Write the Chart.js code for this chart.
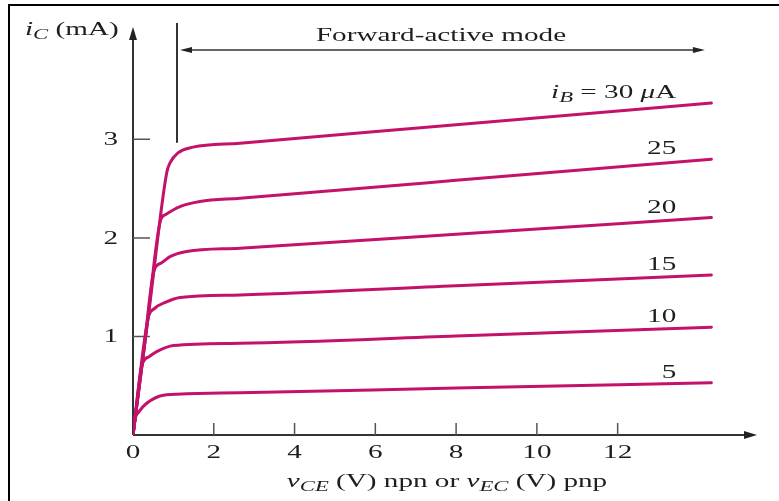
<!DOCTYPE html>
<html>
<head>
<meta charset="utf-8">
<script src="https://cdn.jsdelivr.net/npm/chart.js@4.4.0/dist/chart.umd.min.js"></script>
<style>
  html, body { margin: 0; padding: 0; background: #fff; }
</style>
</head>
<body>
<canvas id="chart" width="779" height="501"></canvas>
<script>
// BJT output characteristics: vCE in V, iC in mA
const baseCurrents = ['30', '25', '20', '15', '10', '5'];
const v30 = [0, 0.42, 0.834, 0.916, 1.114, 1.485, 2.649, 8, 14.32];
const i30 = [0, 1.34, 2.66, 2.761, 2.863, 2.921, 2.961, 3.148, 3.368];
const v25 = [0, 0.34, 0.683, 0.80, 1.163, 1.658, 2.649, 8, 14.32];
const i25 = [0, 1.09, 2.18, 2.235, 2.318, 2.37, 2.403, 2.584, 2.799];
const v20 = [0, 0.26, 0.525, 0.70, 0.916, 1.329, 2.649, 8, 14.32];
const i20 = [0, 0.83, 1.675, 1.745, 1.81, 1.862, 1.895, 2.037, 2.206];
const v15 = [0, 0.366, 0.55, 0.75, 1.163, 2.649, 8, 14.32];
const i15 = [0, 1.168, 1.29, 1.337, 1.396, 1.421, 1.514, 1.624];
const v10 = [0, 0.223, 0.40, 0.587, 0.998, 2.649, 8, 14.32];
const i10 = [0, 0.711, 0.795, 0.846, 0.908, 0.931, 1.005, 1.093];
const v5 = [0, 0.05, 0.15, 0.339, 0.75, 1.329, 2.649, 8, 14.32];
const i5 = [0, 0.16, 0.237, 0.322, 0.404, 0.418, 0.429, 0.476, 0.531];

const xTicks = [0, 2, 4, 6, 8, 10, 12];
const yTicks = [1, 2, 3];
const xMax = 15.45;
const yMax = 4.14;
const activeEdge = 1.09;   // V, left end of forward-active region
const activeEnd = 14.16;   // V, right tip of the region arrow

const curves = [[v30, i30], [v25, i25], [v20, i20], [v15, i15], [v10, i10], [v5, i5]];
const lineColor = '#c4126b';
const ink = '#1e1e1e';
const SX = 1.62; // the figure's lettering is stretched sideways

const serif = '"Liberation Serif", "Times New Roman", serif';
const fReg = '18px ' + serif;
const fIt = 'italic 18px ' + serif;
const fSub = 'italic 14px ' + serif;

function runsWidth(ctx, runs) {
  let w = 0;
  runs.forEach(r => { ctx.font = r[1]; w += ctx.measureText(r[0]).width * SX; });
  return w;
}
function drawRuns(ctx, runs, x, y, align) {
  const w = runsWidth(ctx, runs);
  let cx = align === 'center' ? x - w / 2 : align === 'right' ? x - w : x;
  runs.forEach(r => {
    ctx.font = r[1];
    ctx.save();
    ctx.translate(cx, y + (r[2] || 0));
    ctx.scale(SX, 1);
    ctx.textAlign = 'left';
    ctx.textBaseline = 'alphabetic';
    ctx.fillText(r[0], 0, 0);
    ctx.restore();
    cx += ctx.measureText(r[0]).width * SX;
  });
}
function arrowHead(ctx, tx, ty, dir, len, half) {
  ctx.beginPath();
  if (dir === 'up') { ctx.moveTo(tx, ty); ctx.lineTo(tx - half, ty + len); ctx.lineTo(tx + half, ty + len); }
  if (dir === 'right') { ctx.moveTo(tx, ty); ctx.lineTo(tx - len, ty - half); ctx.lineTo(tx - len, ty + half); }
  if (dir === 'left') { ctx.moveTo(tx, ty); ctx.lineTo(tx + len, ty - half); ctx.lineTo(tx + len, ty + half); }
  ctx.closePath();
  ctx.fill();
}

const axesPlugin = {
  id: 'axesPlugin',
  beforeDatasetsDraw(chart) {
    const { ctx, chartArea: a, scales: { x, y } } = chart;
    const x0 = x.getPixelForValue(0), y0 = y.getPixelForValue(0);
    ctx.save();
    // frame
    ctx.strokeStyle = '#000';
    ctx.lineWidth = 2;
    ctx.beginPath();
    ctx.moveTo(9, 501); ctx.lineTo(9, 5); ctx.lineTo(779, 5);
    ctx.stroke();
    // axes
    ctx.strokeStyle = '#333';
    ctx.fillStyle = '#222';
    ctx.lineWidth = 2;
    ctx.beginPath();
    ctx.moveTo(x0, y0); ctx.lineTo(x0, a.top + 8);
    ctx.moveTo(x0, y0); ctx.lineTo(a.right - 8, y0);
    ctx.stroke();
    arrowHead(ctx, x0, a.top, 'up', 13, 4);
    arrowHead(ctx, a.right, y0, 'right', 13, 4);
    // tick marks point inward
    ctx.strokeStyle = '#555';
    ctx.lineWidth = 1.5;
    ctx.beginPath();
    yTicks.forEach(v => { const p = y.getPixelForValue(v); ctx.moveTo(x0, p); ctx.lineTo(x0 + 17, p); });
    xTicks.filter(v => v > 0).forEach(v => { const p = x.getPixelForValue(v); ctx.moveTo(p, y0); ctx.lineTo(p, y0 - 12); });
    ctx.stroke();
    // forward-active region marker
    const xe = x.getPixelForValue(activeEdge);
    const xr = x.getPixelForValue(activeEnd);
    ctx.strokeStyle = '#333';
    ctx.lineWidth = 2;
    ctx.beginPath();
    ctx.moveTo(xe, a.top - 4); ctx.lineTo(xe, y.getPixelForValue(2.965));
    ctx.stroke();
    const ay = a.top + 23;
    ctx.lineWidth = 1.5;
    ctx.beginPath();
    ctx.moveTo(xe + 10, ay); ctx.lineTo(xr - 10, ay);
    ctx.stroke();
    arrowHead(ctx, xe + 3, ay, 'left', 12, 3);
    arrowHead(ctx, xr, ay, 'right', 12, 3);
    ctx.restore();
  },
  afterDraw(chart) {
    const { ctx, scales: { x, y } } = chart;
    const x0 = x.getPixelForValue(0), y0 = y.getPixelForValue(0);
    ctx.save();
    ctx.fillStyle = ink;
    yTicks.forEach(v => drawRuns(ctx, [[String(v), fReg]], x0 - 15, y.getPixelForValue(v) + 6, 'right'));
    xTicks.forEach(v => drawRuns(ctx, [[String(v), fReg]], x.getPixelForValue(v), y0 + 23, 'center'));
    // axis titles
    drawRuns(ctx, [['i', fIt], ['C', fSub, 4], [' (mA)', fReg]], 25, 35, 'left');
    drawRuns(ctx, [['v', fIt], ['CE', fSub, 4], [' (V) npn or ', fReg], ['v', fIt], ['EC', fSub, 4], [' (V) pnp', fReg]],
      (x0 + chart.chartArea.right) / 2 + 2, 487, 'center');
    drawRuns(ctx, [['Forward-active mode', fReg]], 441, 41, 'center');
    // curve labels, right-aligned above each curve end
    curves.forEach((c, k) => {
      const is = c[1];
      const px = x.getPixelForValue(13.45);
      const py = y.getPixelForValue(is[is.length - 1]) - 5;
      const runs = k === 0
        ? [['i', fIt], ['B', fSub, 4], [' = 30 ', fReg], ['\u03bc', fIt], ['A', fReg]]
        : [[baseCurrents[k], fReg]];
      drawRuns(ctx, runs, px, py, 'right');
    });
    ctx.restore();
  }
};

const datasets = curves.map((c, k) => ({
  label: 'iB = ' + baseCurrents[k] + ' \u03bcA',
  data: c[0].map((v, j) => ({ x: v, y: c[1][j] })),
  borderColor: lineColor,
  borderWidth: 3,
  borderJoinStyle: 'round',
  borderCapStyle: 'round',
  pointRadius: 0,
  fill: false,
  cubicInterpolationMode: 'monotone'
}));

new Chart(document.getElementById('chart'), {
  type: 'line',
  data: { datasets },
  options: {
    responsive: false,
    animation: false,
    layout: { padding: { left: 133, right: 22, top: 27, bottom: 66 } },
    plugins: { legend: { display: false }, tooltip: { enabled: false } },
    scales: {
      x: { type: 'linear', min: 0, max: xMax, display: false },
      y: { type: 'linear', min: 0, max: yMax, display: false }
    }
  },
  plugins: [axesPlugin]
});
</script>
</body>
</html>
